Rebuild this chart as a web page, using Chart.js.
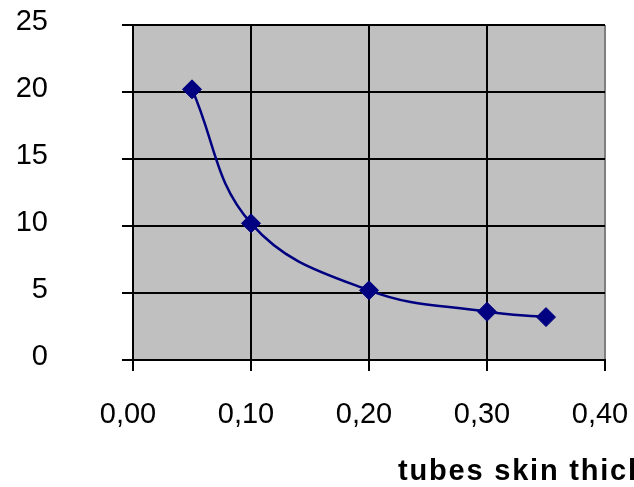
<!DOCTYPE html>
<html lang="en">
<head>
<meta charset="UTF-8">
<title>tubes skin thickness</title>
<script src="https://cdn.jsdelivr.net/npm/chart.js"></script>
<style>
    html, body { margin: 0; padding: 0; background: #fff; overflow: hidden; }
    #wrap { position: relative; width: 634px; height: 487px; }
    #xTitle {
        position: absolute; left: 398px; top: 455px;
        font: bold 29px "Liberation Sans", Arial, sans-serif;
        line-height: 30px; letter-spacing: 1.8px;
        white-space: nowrap; color: #000;
    }
</style>
</head>
<body>
<div id="wrap">
    <canvas id="myChart" width="634" height="487"></canvas>
    <div id="xTitle">tubes skin thickness</div>
</div>
<script>
    const thickness = [0.05, 0.10, 0.20, 0.30, 0.35];
    const values = [20.2, 10.2, 5.2, 3.6, 3.2];
    const xTickLabels = ['0,00', '0,10', '0,20', '0,30', '0,40'];
    const yTickLabels = ['0', '5', '10', '15', '20', '25'];

    const tickFont = { family: '"Liberation Sans", Arial, sans-serif', size: 29 };

    // grey plot area like the excel chart
    const plotBackground = {
        id: 'plotBackground',
        beforeDraw(chart) {
            const { ctx, chartArea } = chart;
            ctx.save();
            ctx.fillStyle = '#c0c0c0';
            ctx.fillRect(chartArea.left, chartArea.top,
                chartArea.right - chartArea.left, chartArea.bottom - chartArea.top);
            ctx.restore();
        }
    };

    let ctx = document.getElementById('myChart').getContext('2d');
    let myChart = new Chart(ctx, {
        type: 'line',
        data: {
            datasets: [{
                data: thickness.map((x, i) => ({ x: x, y: values[i] })),
                borderColor: '#000080',
                borderWidth: 2.5,
                tension: 0.4,
                fill: false,
                pointStyle: 'rectRot',
                pointRadius: 9.5,
                pointBackgroundColor: '#000080',
                pointBorderColor: '#000080',
                pointBorderWidth: 1
            }]
        },
        options: {
            responsive: false,
            animation: false,
            layout: {
                padding: { top: 25, right: 29, left: 0, bottom: 0 }
            },
            plugins: {
                legend: { display: false },
                tooltip: { enabled: false }
            },
            scales: {
                x: {
                    type: 'linear',
                    min: 0,
                    max: 0.4,
                    afterFit: (scale) => {
                        scale.height = 127;
                        scale.paddingLeft = 0;
                        scale.paddingRight = 0;
                    },
                    ticks: {
                        stepSize: 0.1,
                        autoSkip: false,
                        maxRotation: 0,
                        padding: 27,
                        labelOffset: -5,
                        color: '#000',
                        font: tickFont,
                        callback: (v, i) => xTickLabels[i]
                    },
                    grid: {
                        color: (c) => (c.tick && c.tick.value >= 0.399) ? '#808080' : '#000',
                        lineWidth: 2,
                        tickLength: 11,
                        tickColor: '#000'
                    },
                    border: { color: '#000', width: 2 }
                },
                y: {
                    min: 0,
                    max: 25,
                    afterFit: (scale) => {
                        scale.width = 133;
                        scale.paddingTop = 0;
                        scale.paddingBottom = 0;
                    },
                    ticks: {
                        stepSize: 5,
                        padding: 74,
                        labelOffset: -3,
                        color: '#000',
                        font: tickFont,
                        callback: (v, i) => yTickLabels[i]
                    },
                    grid: {
                        color: '#000',
                        lineWidth: 2,
                        tickLength: 11,
                        tickColor: '#000'
                    },
                    border: { color: '#000', width: 2 }
                }
            }
        },
        plugins: [plotBackground]
    });
</script>
</body>
</html>
